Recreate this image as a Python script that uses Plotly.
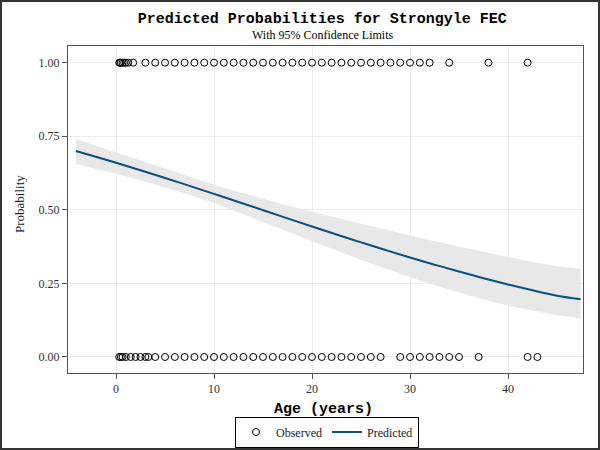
import plotly.graph_objects as go

# Observed outcomes (age in years)
obs1_age = [0.33, 0.42, 0.5, 0.67, 0.83, 1, 1.25, 1.75] + list(range(3, 33)) + [34, 38, 42]
obs0_age = [0.33, 0.5, 0.67, 1, 1.5, 2, 2.5, 3, 3.3] + list(range(4, 28)) + [29, 30, 31, 32, 33, 34, 35, 37, 42, 43]

# Predicted curve and 95% confidence limits
fit_age = [-4.1, -2.5, 0, 2.5, 5, 7.5, 10, 12.5, 15, 17.5, 20, 22.5, 25, 27.5, 30,
           32.5, 35, 37.5, 40, 42.5, 45, 47.4]
fit_pred = [0.7000, 0.6844, 0.6599, 0.6345, 0.6084, 0.5815, 0.5543, 0.5267, 0.4989, 0.4710,
            0.4435, 0.4163, 0.3895, 0.3633, 0.3380, 0.3137, 0.2902, 0.2678, 0.2466, 0.2265,
            0.2080, 0.1960]
fit_lower = [0.6560, 0.6429, 0.6226, 0.6009, 0.5773, 0.5514, 0.5232, 0.4927, 0.4605, 0.4275,
             0.3945, 0.3620, 0.3302, 0.2998, 0.2709, 0.2438, 0.2184, 0.1950, 0.1740, 0.1570,
             0.1420, 0.1320]
fit_upper = [0.7410, 0.7231, 0.6954, 0.6670, 0.6386, 0.6110, 0.5850, 0.5605, 0.5373, 0.5150,
             0.4936, 0.4728, 0.4522, 0.4320, 0.4124, 0.3932, 0.3750, 0.3570, 0.3400, 0.3230,
             0.3080, 0.3000]

x_ticks = [0, 10, 20, 30, 40]
y_ticks = [0, 0.25, 0.5, 0.75, 1.0]
y_tick_labels = ["0.00", "0.25", "0.50", "0.75", "1.00"]

serif = "Liberation Serif, Times New Roman, serif"
mono = "Liberation Mono, Courier New, monospace"

L, R, T, B = 68, 17, 46, 77
PW, PH = 600 - L - R, 450 - T - B

fig = go.Figure()

fig.add_trace(go.Scatter(
    x=fit_age + fit_age[::-1], y=fit_upper + fit_lower[::-1],
    fill="toself", fillcolor="#e8e8e8", line=dict(width=0), mode="lines",
    hoverinfo="skip", showlegend=False))

fig.add_trace(go.Scatter(
    x=obs0_age + obs1_age, y=[0] * len(obs0_age) + [1] * len(obs1_age),
    mode="markers", name="Observed",
    marker=dict(symbol="circle-open", size=7, color="black", line=dict(width=1, color="black"))))

fig.add_trace(go.Scatter(
    x=fit_age, y=fit_pred, mode="lines", name="Predicted",
    line=dict(color="#0b4f7a", width=2, shape="spline")))

axis_common = dict(showgrid=True, gridcolor="#ebebeb", gridwidth=1,
                   showline=True, linecolor="#555555", linewidth=1, mirror=True,
                   ticks="outside", ticklen=5, tickcolor="#555555", automargin=False,
                   zeroline=False, tickfont=dict(family=serif, size=12, color="#333333"))

fig.update_layout(
    width=600, height=450,
    margin=dict(l=L, r=R, t=T, b=B, autoexpand=False),
    paper_bgcolor="white", plot_bgcolor="white",
    title=dict(text="<b>Predicted Probabilities for Strongyle FEC</b>",
               font=dict(family=mono, size=15, color="black"),
               x=0.537, xanchor="center", xref="container",
               y=1 - 18 / 450, yanchor="middle", yref="container"),
    xaxis=dict(range=[-4.9, 47.65], tickvals=x_ticks, **axis_common),
    yaxis=dict(range=[-0.0544, 1.0567], tickvals=y_ticks, ticktext=y_tick_labels, **axis_common),
    legend=dict(orientation="h", x=(327 - L) / PW, xanchor="center",
                y=(450 - B - 432) / PH, yanchor="middle",
                bordercolor="black", borderwidth=1, bgcolor="white",
                font=dict(family=serif, size=12, color="#222222"),
                itemwidth=30, tracegroupgap=0),
    annotations=[
        dict(text="With 95% Confidence Limits", xref="paper", yref="paper",
             x=(322 - L) / PW, y=(450 - B - 35) / PH, xanchor="center", yanchor="middle",
             showarrow=False, font=dict(family=serif, size=12, color="black")),
        dict(text="<b>Age (years)</b>", xref="paper", yref="paper",
             x=(323 - L) / PW, y=(450 - B - 409) / PH, xanchor="center", yanchor="middle",
             showarrow=False, font=dict(family=mono, size=15, color="black")),
        dict(text="Probability", xref="paper", yref="paper", textangle=-90,
             x=(20 - L) / PW, y=(450 - B - 204) / PH, xanchor="center", yanchor="middle",
             showarrow=False, font=dict(family=serif, size=13, color="#222222")),
    ],
    shapes=[dict(type="rect", xref="paper", yref="paper",
                 x0=(1 - L) / PW, x1=(599 - L) / PW,
                 y0=(450 - B - 449) / PH, y1=(450 - B - 1) / PH,
                 line=dict(color="#333333", width=2))],
)

fig.write_html("out.html", config={"displayModeBar": False},
               post_script="document.body.style.margin='0';document.body.style.overflow='hidden';")
